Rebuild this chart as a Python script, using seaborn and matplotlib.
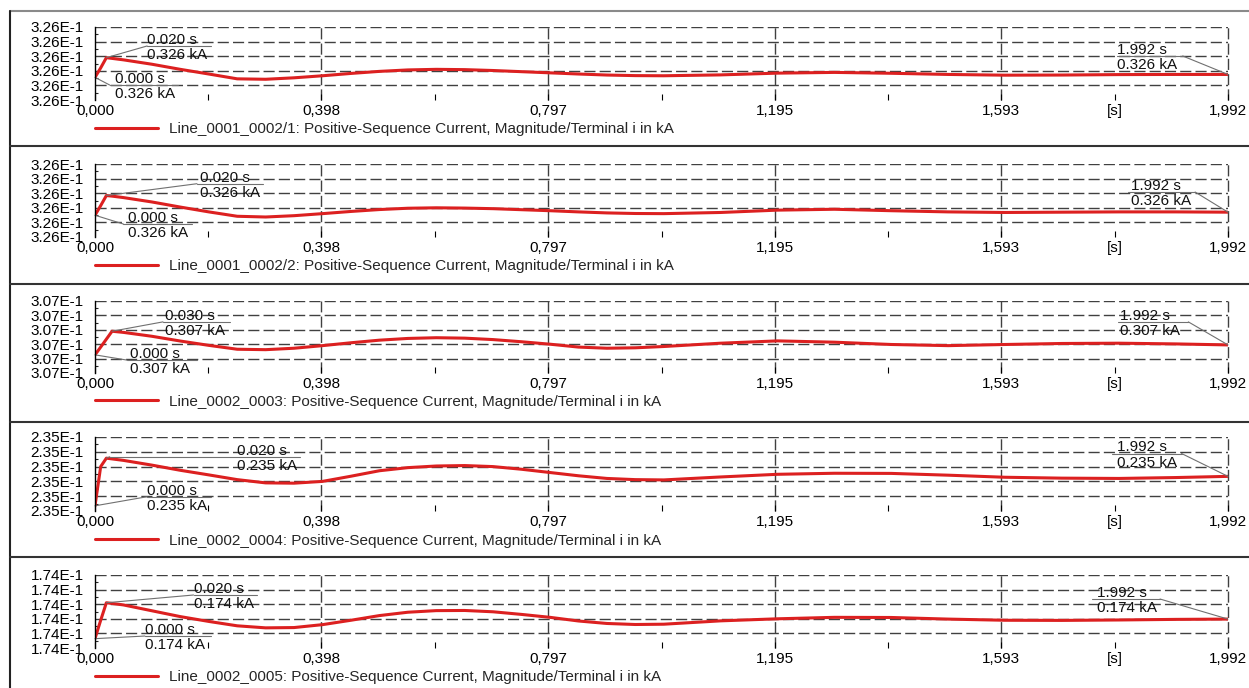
import numpy as np
import seaborn as sns
import matplotlib.pyplot as plt
from matplotlib.lines import Line2D
from matplotlib.ticker import FixedLocator, FuncFormatter

# simulation time [s]
time_s = [0.000, 0.010, 0.020, 0.030, 0.050, 0.100, 0.150, 0.200, 0.250, 0.300, 0.350, 0.400,
          0.450, 0.500, 0.550, 0.600, 0.650, 0.700, 0.750, 0.800, 0.850, 0.900, 0.950, 1.000,
          1.100, 1.200, 1.300, 1.400, 1.500, 1.600, 1.700, 1.800, 1.900, 1.992]

# positive-sequence current magnitude [kA]
i_0001_0002_1 = [0.3260155, 0.3260220, 0.3260290, 0.3260285, 0.3260275, 0.3260245, 0.3260210, 0.3260178,
                 0.3260145, 0.3260142, 0.3260152, 0.3260166, 0.3260182, 0.3260196, 0.3260206, 0.3260210,
                 0.3260208, 0.3260202, 0.3260194, 0.3260186, 0.3260178, 0.3260171, 0.3260167, 0.3260166,
                 0.3260172, 0.3260184, 0.3260189, 0.3260183, 0.3260175, 0.3260170, 0.3260171, 0.3260174,
                 0.3260175, 0.3260175]
i_0001_0002_2 = [0.3260149, 0.3260215, 0.3260284, 0.3260280, 0.3260270, 0.3260240, 0.3260205, 0.3260172,
                 0.3260142, 0.3260137, 0.3260146, 0.3260160, 0.3260175, 0.3260188, 0.3260197, 0.3260200,
                 0.3260198, 0.3260194, 0.3260187, 0.3260180, 0.3260172, 0.3260165, 0.3260161, 0.3260160,
                 0.3260168, 0.3260184, 0.3260190, 0.3260180, 0.3260172, 0.3260168, 0.3260170, 0.3260172,
                 0.3260172, 0.3260170]
i_0002_0003 = [0.3070126, 0.3070180, 0.3070235, 0.3070290, 0.3070282, 0.3070255, 0.3070222, 0.3070192,
               0.3070165, 0.3070162, 0.3070172, 0.3070190, 0.3070210, 0.3070228, 0.3070240, 0.3070245,
               0.3070242, 0.3070232, 0.3070217, 0.3070200, 0.3070180, 0.3070172, 0.3070175, 0.3070184,
               0.3070207, 0.3070223, 0.3070214, 0.3070198, 0.3070190, 0.3070198, 0.3070205, 0.3070207,
               0.3070202, 0.3070195]
i_0002_0004 = [0.2350035, 0.2350300, 0.2350357, 0.2350352, 0.2350342, 0.2350310, 0.2350275, 0.2350244,
               0.2350212, 0.2350190, 0.2350188, 0.2350200, 0.2350235, 0.2350272, 0.2350293, 0.2350304,
               0.2350307, 0.2350300, 0.2350282, 0.2350260, 0.2350238, 0.2350220, 0.2350212, 0.2350210,
               0.2350230, 0.2350248, 0.2350255, 0.2350254, 0.2350242, 0.2350228, 0.2350222, 0.2350220,
               0.2350226, 0.2350234]
i_0002_0005 = [0.1740064, 0.1740190, 0.1740310, 0.1740305, 0.1740295, 0.1740255, 0.1740215, 0.1740182,
               0.1740152, 0.1740138, 0.1740140, 0.1740160, 0.1740190, 0.1740222, 0.1740245, 0.1740256,
               0.1740257, 0.1740248, 0.1740230, 0.1740210, 0.1740185, 0.1740168, 0.1740161, 0.1740163,
               0.1740186, 0.1740200, 0.1740210, 0.1740209, 0.1740198, 0.1740190, 0.1740189, 0.1740192,
               0.1740196, 0.1740198]

series = [i_0001_0002_1, i_0001_0002_2, i_0002_0003, i_0002_0004, i_0002_0005]
labels = ["Line_0001_0002/1", "Line_0001_0002/2", "Line_0002_0003", "Line_0002_0004", "Line_0002_0005"]
y_base = [0.32600, 0.32600, 0.30700, 0.23500, 0.17400]

x_ticks = [0.0, 0.398, 0.797, 1.195, 1.593, 1.992]
x_ticklabels = ["0,000", "0,398", "0,797", "1,195", "1,593", "1,992"]
x_minor = [0.199, 0.598, 0.996, 1.394, 1.793]
x_minorlabels = ["", "", "", "", "[s]"]

# layout (pixels of the 1249x688 figure): axes top / bottom
panel_px = [(27, 100), (164, 237), (301, 373), (437, 511), (575, 648)]
separators_px = [146, 284, 422, 557]
# annotation boxes in axes fraction: (text_left, bar_y, bar_left, bar_right)
ann_start = [(0.018, 0.205, 0.013, 0.073), (0.029, 0.178, 0.025, 0.086), (0.031, 0.180, 0.028, 0.090),
             (0.046, 0.193, 0.046, 0.102), (0.044, 0.164, 0.044, 0.102)]
ann_peak = [(0.046, 0.740, 0.046, 0.102), (0.093, 0.730, 0.090, 0.148), (0.062, 0.710, 0.060, 0.119),
            (0.125, 0.733, 0.013, 0.181), (0.087, 0.726, 0.087, 0.143)]
ann_end = [(0.902, 0.603, 0.902, 0.960), (0.914, 0.616, 0.912, 0.971), (0.905, 0.710, 0.903, 0.965),
           (0.902, 0.777, 0.898, 0.959), (0.884, 0.671, 0.880, 0.940)]

sns.set_style("white")
plt.rcParams["font.family"] = ["Liberation Sans", "DejaVu Sans"]
FS = 11

W, H = 1249, 688
fig = plt.figure(figsize=(W / 100, H / 100), dpi=100)

ax_left = 95 / W
ax_width = (1228 - 95) / W
red = "#dc2020"
grid_c = "#404040"
lead_c = "#707070"


def annotate(ax, t, v, box, attach_right, ylo, yhi):
    tx, by, bl, br = box
    px = t / 1.992
    py = (v - ylo) / (yhi - ylo)
    ax.add_artist(Line2D([px, br if attach_right else bl], [py, by], transform=ax.transAxes,
                         color=lead_c, lw=0.8, clip_on=False))
    ax.add_artist(Line2D([bl, br], [by, by], transform=ax.transAxes,
                         color=lead_c, lw=0.8, clip_on=False))
    ax.annotate(f"{t:.3f} s", xy=(tx, by), xycoords="axes fraction", xytext=(0, 1.5),
                textcoords="offset points", ha="left", va="baseline", fontsize=FS, color="#111111")
    ax.annotate(f"{v:.3f} kA", xy=(tx, by), xycoords="axes fraction", xytext=(0, -1.5),
                textcoords="offset points", ha="left", va="top", fontsize=FS, color="#111111")


for k, (vals, lab) in enumerate(zip(series, labels)):
    top, bot = panel_px[k]
    ax = fig.add_axes([ax_left, 1 - bot / H, ax_width, (bot - top) / H])
    ylo = y_base[k]
    yhi = y_base[k] + 5e-5
    y_ticks = np.linspace(ylo, yhi, 6)

    sns.lineplot(x=time_s, y=vals, ax=ax, color=red, lw=2.2)

    for yt in y_ticks[1:]:
        ax.axhline(yt, color=grid_c, lw=1.0, dashes=(8, 3), zorder=0)
    for xt in x_ticks[1:]:
        ax.axvline(xt, color=grid_c, lw=1.0, dashes=(8, 3), zorder=0, clip_on=False)

    ax.set_xlim(0, 1.992)
    ax.set_ylim(ylo, yhi)
    for s in ["top", "right", "bottom"]:
        ax.spines[s].set_visible(False)
    ax.spines["left"].set_color("black")
    ax.spines["left"].set_linewidth(1.0)

    ax.yaxis.set_major_locator(FixedLocator(y_ticks))
    ax.yaxis.set_minor_locator(FixedLocator((y_ticks[:-1] + y_ticks[1:]) / 2))
    ax.yaxis.set_major_formatter(FuncFormatter(lambda v, pos: f"{v * 10:.2f}E-1"))
    ax.tick_params(axis="y", which="major", direction="in", length=4, width=0.8, pad=8,
                   labelsize=FS, colors="black")
    ax.tick_params(axis="y", which="minor", direction="in", length=2.5, width=0.8, left=True)

    ax.set_xticks(x_ticks)
    ax.set_xticklabels(x_ticklabels)
    ax.set_xticks(x_minor, minor=True)
    ax.set_xticklabels(x_minorlabels, minor=True)
    ax.tick_params(axis="x", which="both", direction="in", length=4, width=0.8, pad=3,
                   labelsize=FS, colors="black", bottom=True)
    ax.set_xlabel("")
    ax.set_ylabel("")

    ax.legend(handles=[ax.lines[0]],
              labels=[f"{lab}: Positive-Sequence Current, Magnitude/Terminal i in kA"],
              loc="center left", bbox_to_anchor=(0.0, -0.40), frameon=False,
              borderaxespad=0, borderpad=0, handlelength=4.1, handletextpad=0.75,
              fontsize=FS)

    i_peak = int(np.argmax(vals))
    annotate(ax, time_s[0], vals[0], ann_start[k], False, ylo, yhi)
    annotate(ax, time_s[i_peak], vals[i_peak], ann_peak[k], False, ylo, yhi)
    annotate(ax, time_s[-1], vals[-1], ann_end[k], True, ylo, yhi)

# panel frames
fig.add_artist(Line2D([10 / W, 1], [1 - 11 / H, 1 - 11 / H], transform=fig.transFigure,
                      color="#8a8a8a", lw=1.5))
fig.add_artist(Line2D([10 / W, 10 / W], [0, 1 - 11 / H], transform=fig.transFigure,
                      color="#222222", lw=1.5))
for yp in separators_px:
    fig.add_artist(Line2D([10 / W, 1], [1 - yp / H, 1 - yp / H], transform=fig.transFigure,
                          color="#333333", lw=1.5))

fig.savefig("out.png", dpi=100, facecolor="white")
